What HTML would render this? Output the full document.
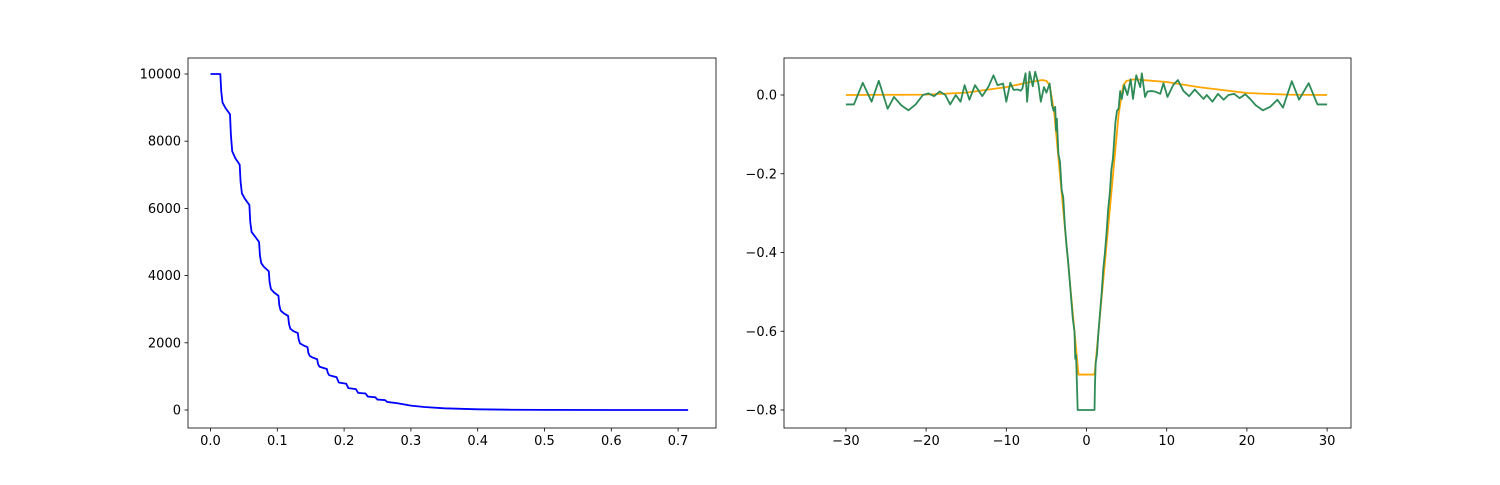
<!DOCTYPE html>
<html><head><meta charset="utf-8"><style>
body{margin:0;background:#fff}
svg text{font-family:"DejaVu Sans","Liberation Sans",sans-serif;font-size:13px;fill:#000}
</style></head><body>
<svg id="fig" width="1500" height="480" xmlns="http://www.w3.org/2000/svg"></svg>
<script>
// Left chart data
const leftX=[0,0.0147,0.016,0.018,0.022,0.0292,0.0305,0.0325,0.037,0.0437,0.045,0.047,0.051,0.0582,0.0595,0.0615,0.066,0.0727,0.074,0.076,0.08,0.0872,0.0885,0.0905,0.095,0.1017,0.103,0.105,0.1095,0.1162,0.1175,0.1195,0.124,0.1307,0.132,0.134,0.1385,0.1452,0.1465,0.1485,0.153,0.1597,0.161,0.163,0.1675,0.1742,0.1755,0.1775,0.182,0.1887,0.192,0.2032,0.2065,0.2177,0.221,0.2322,0.2355,0.2467,0.25,0.2612,0.2645,0.28,0.3,0.32,0.35,0.4,0.45,0.5,0.6,0.715];
const leftY=[10000,10000,9500,9150,9000,8800,8200,7700,7500,7300,6800,6450,6300,6100,5600,5300,5180,5000,4600,4370,4260,4130,3800,3600,3500,3400,3120,2960,2880,2800,2560,2420,2350,2290,2100,1980,1930,1870,1700,1610,1560,1510,1370,1290,1260,1220,1110,1040,1010,980,820,780,650,620,510,490,400,380,310,295,240,200,130,90,50,20,8,3,0.5,0];
const leftXTicks=[0,0.1,0.2,0.3,0.4,0.5,0.6,0.7];
const leftXLabels=["0.0","0.1","0.2","0.3","0.4","0.5","0.6","0.7"];
const leftYTicks=[0,2000,4000,6000,8000,10000];
// Right chart data
const orangeX=[-30,-20,-15,-10,-7,-5.5,-5,-4.6,-4.3,-4,-1,1,4,4.3,4.6,5,6,7,10,14,20,25,30];
const orangeY=[0,0.001,0.006,0.02,0.033,0.038,0.036,0.025,-0.01,-0.05,-0.71,-0.71,-0.05,-0.01,0.025,0.036,0.04,0.038,0.033,0.02,0.005,0.001,0];
const greenX=[-30,-29,-27.9,-26.8,-25.9,-24.8,-24,-23.1,-22.2,-21.3,-20.4,-19.7,-19,-18.3,-17.6,-17,-16.3,-15.7,-15.2,-14.6,-13.9,-13,-12.2,-11.6,-11.1,-10.4,-10,-9.5,-9.1,-8.6,-8.2,-8,-7.6,-7.4,-7.1,-6.7,-6.4,-6,-5.7,-5.3,-5,-4.6,-4.3,-4.1,-3.9,-3.8,-3.7,-3.5,-3.3,-3.1,-2.9,-2.7,-2.5,-2.3,-2.1,-1.9,-1.7,-1.5,-1.4,-1.3,-1.2,-1.1,1,1.05,1.15,1.3,1.5,1.7,1.9,2.1,2.3,2.5,2.7,2.9,3.1,3.3,3.5,3.6,3.8,4,4.2,4.4,4.7,5.1,5.5,5.8,6.2,6.7,6.9,7.3,7.6,8.1,8.5,9.2,9.6,10.1,10.8,11.4,12.1,12.8,13.5,13.9,14.6,15,15.7,16.4,17.1,17.7,18.4,19.1,19.8,20.4,21.1,22,22.9,23.8,24.5,25.6,26.5,27.7,28.8,30];
const greenY=[-0.024,-0.024,0.031,-0.017,0.036,-0.035,-0.005,-0.026,-0.039,-0.024,0,0.004,-0.003,0.009,0,-0.024,0,-0.017,0.025,-0.012,0.025,-0.003,0.022,0.05,0.025,0.029,-0.017,0.031,0.013,0.014,0.011,0.016,0.055,-0.017,0.059,0.022,0.059,0.029,-0.017,0.02,0.006,0.029,-0.026,-0.04,-0.03,-0.09,-0.06,-0.15,-0.17,-0.24,-0.26,-0.33,-0.38,-0.42,-0.47,-0.52,-0.57,-0.6,-0.67,-0.66,-0.73,-0.8,-0.8,-0.74,-0.68,-0.66,-0.6,-0.55,-0.5,-0.44,-0.4,-0.35,-0.29,-0.25,-0.19,-0.16,-0.1,-0.07,-0.04,-0.035,0.01,-0.01,0.025,0,0.04,-0.01,0.05,0.02,0.055,-0.005,0.009,0.01,0.009,0.003,0.03,-0.005,0.025,0.038,0.01,-0.003,0.014,0.005,-0.01,0,-0.017,0.003,-0.012,0,0.003,-0.008,0.002,-0.01,-0.026,-0.039,-0.03,-0.012,-0.032,0.035,-0.012,0.03,-0.024,-0.024];
const rightXTicks=[-30,-20,-10,0,10,20,30];
const rightYTicks=[0,-0.2,-0.4,-0.6,-0.8];
const rightYLabels=["0.0","−0.2","−0.4","−0.6","−0.8"];

const NS="http://www.w3.org/2000/svg";
const svg=document.getElementById('fig');
function mk(tag,attrs,parent){const e=document.createElementNS(NS,tag);for(const k in attrs)e.setAttribute(k,attrs[k]);(parent||svg).appendChild(e);return e;}

function axes(name,x0,y0,x1,y1,sx,sy,xt,xl,yt,yl){
  const g=mk('g',{});
  
  
  xt.forEach((v,i)=>{const px=sx(v);
    const t=mk('line',{x1:px,x2:px,y1:y1,y2:y1+3.5,stroke:'#000','stroke-width':0.8},g);
    
    
    const tx=mk('text',{x:px,y:y1+17,'text-anchor':'middle'},g);tx.textContent=xl[i];
    
    });
  yt.forEach((v,i)=>{const py=sy(v);
    const t=mk('line',{x1:x0-3.5,x2:x0,y1:py,y2:py,stroke:'#000','stroke-width':0.8},g);
    
    
    const tx=mk('text',{x:x0-7,y:py+4.5,'text-anchor':'end'},g);tx.textContent=yl[i];
    
    });
  return g;
}
function line(name,xs,ys,sx,sy,color,w){
  const p=mk('polyline',{points:xs.map((x,i)=>sx(x).toFixed(2)+','+sy(ys[i]).toFixed(2)).join(' '),fill:'none',stroke:color,'stroke-width':w,'stroke-linejoin':'round'});
  
  
}
function frame(name,x0,y0,x1,y1){
  const r=mk('rect',{x:x0,y:y0,width:x1-x0,height:y1-y0,fill:'none',stroke:'#000','stroke-width':0.8});
  
  
}
// left
const lsx=x=>210.5+x*668, lsy=v=>410-v*0.0336;
axes('left-axes',188,58,716,428,lsx,lsy,leftXTicks,leftXLabels,leftYTicks,leftYTicks.map(String));
line('decay-line',leftX,leftY,lsx,lsy,'#0000ff',1.8);
frame('left-plot-frame',188,58,716,428);
// right
const rsx=x=>1086.5+x*8.02, rsy=v=>95-v*393.75;
axes('right-axes',784,58,1351,428,rsx,rsy,rightXTicks,rightXTicks.map(v=>v<0?'−'+(-v):String(v)),rightYTicks,rightYLabels);
line('orange-model-line',orangeX,orangeY,rsx,rsy,'#ffa500',1.8);
line('green-data-line',greenX,greenY,rsx,rsy,'#2e8b57',1.8);
frame('right-plot-frame',784,58,1351,428);
</script>
</body></html>
